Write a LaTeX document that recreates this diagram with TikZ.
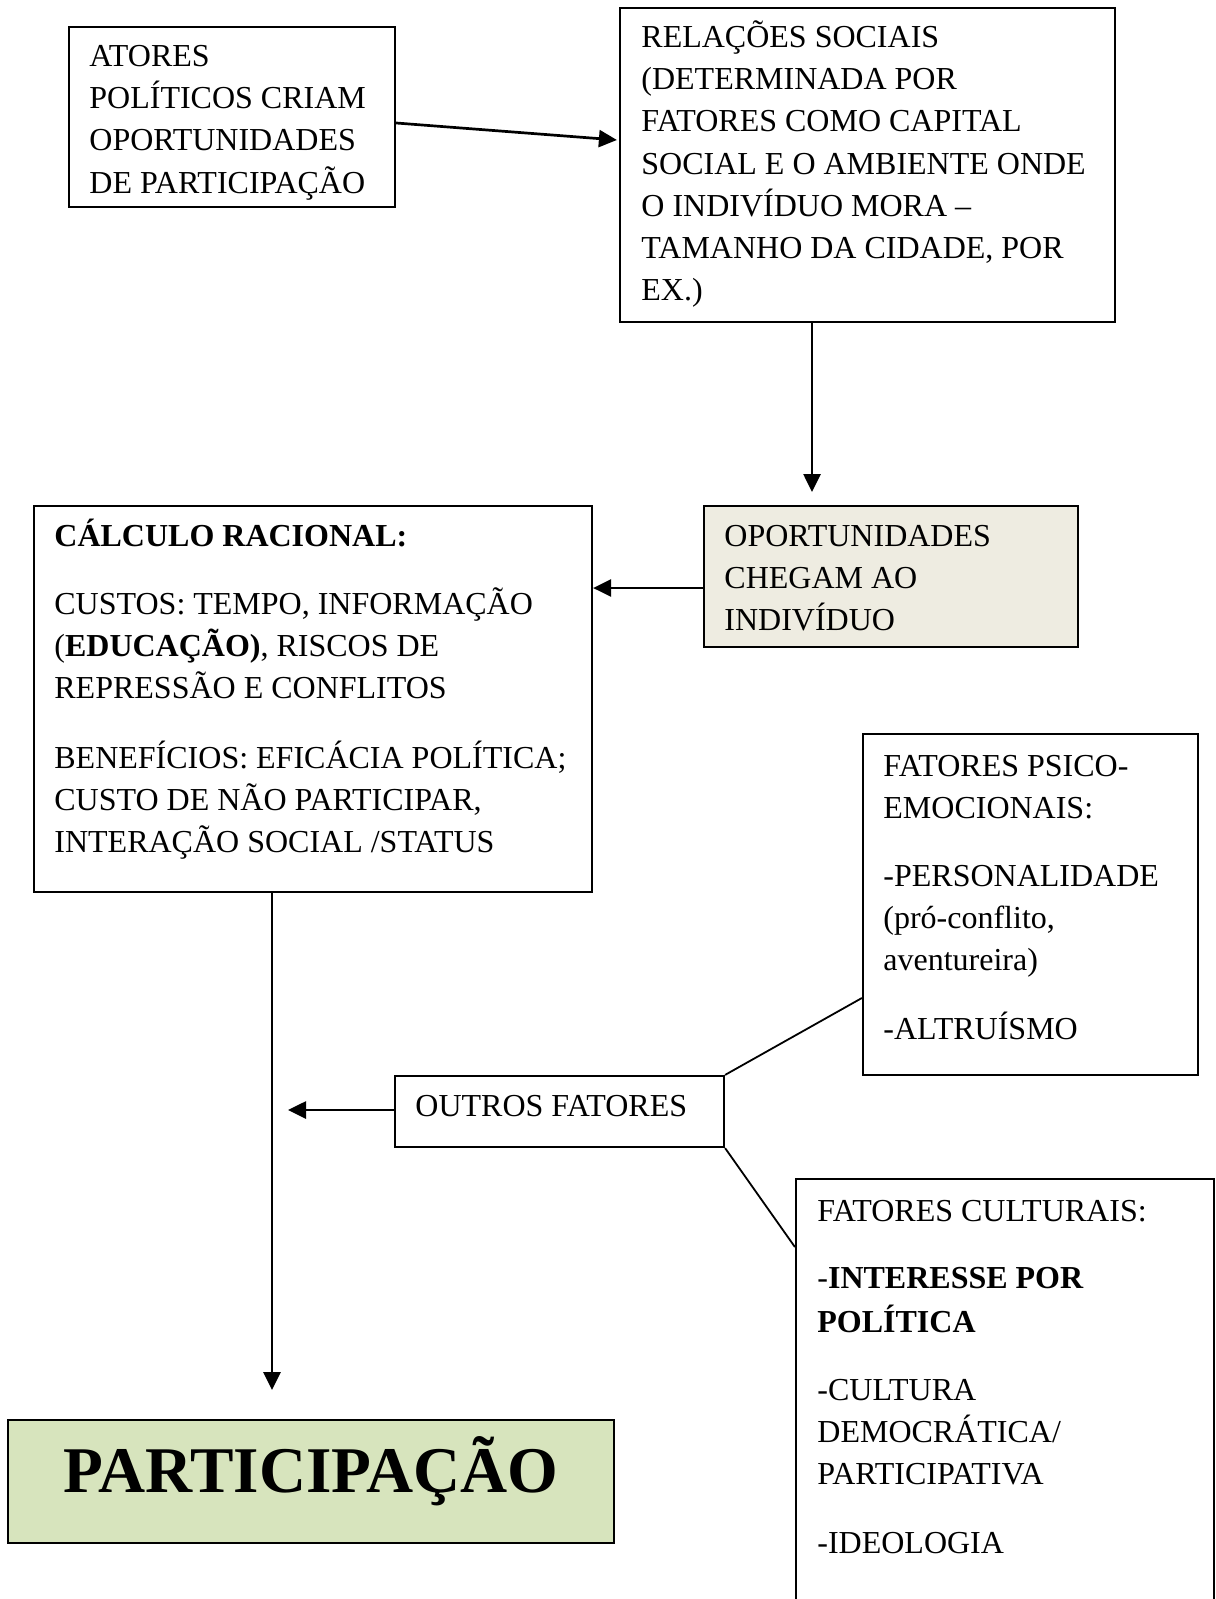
\documentclass[tikz,border=0pt]{standalone}
\usepackage{fontspec}
\setmainfont{Liberation Serif}
\usetikzlibrary{arrows.meta,fit,calc}
\definecolor{tanfill}{HTML}{EEECE1}
\definecolor{greenfill}{HTML}{D7E4BD}
\begin{document}
\begin{tikzpicture}[x=0.5pt,y=-0.5pt,
  box/.style={draw=black,line width=1.1pt,inner sep=0pt,rectangle},
  txt/.style={anchor=base west,inner sep=0pt,font=\fontsize{16}{21}\selectfont},
  arr/.style={line width=1.35pt,-{Triangle[length=9pt,width=8.5pt]}},
  link/.style={line width=0.9pt}]
\useasboundingbox (0,0) rectangle (1215,1599);
\fill[white] (0,0) rectangle (1215,1599);

% boxes
\node[box,fit={(69,27)(395,207)}] (b1) {};
\node[box,fit={(620,8)(1115,322)}] (b2) {};
\node[box,fill=tanfill,fit={(704,506)(1078,647)}] (b3) {};
\node[box,fit={(34,506)(592,892)}] (b4) {};
\node[box,fit={(863,734)(1198,1075)}] (b5) {};
\node[box,fit={(395,1076)(724,1147)}] (b6) {};
\node[box,fit={(796,1179)(1214,1630)}] (b7) {};
\node[box,fill=greenfill,fit={(8,1420)(614,1543)}] (b8) {};

% box 1 text
\node[txt] (t11) at (89,66.5) {ATORES};
\node[txt] (t12) at (89,108.7) {POLÍTICOS CRIAM};
\node[txt] (t13) at (89,150.9) {OPORTUNIDADES};
\node[txt] (t14) at (89,193.1) {DE PARTICIPAÇÃO};

% box 2 text
\node[txt] (t21) at (641,47.5) {RELAÇÕES SOCIAIS};
\node[txt] (t22) at (641,89.7) {(DETERMINADA POR};
\node[txt] (t23) at (641,131.9) {FATORES COMO CAPITAL};
\node[txt] (t24) at (641,174.1) {SOCIAL E O AMBIENTE ONDE};
\node[txt] (t25) at (641,216.3) {O INDIVÍDUO MORA –};
\node[txt] (t26) at (641,258.5) {TAMANHO DA CIDADE, POR};
\node[txt] (t27) at (641,300.7) {EX.)};

% box 3 text
\node[txt] (t31) at (724,546) {OPORTUNIDADES};
\node[txt] (t32) at (724,588.2) {CHEGAM AO};
\node[txt] (t33) at (724,630.4) {INDIVÍDUO};

% box 4 text
\node[txt,font=\fontsize{16}{21}\selectfont\bfseries] (t41) at (54,546) {CÁLCULO RACIONAL:};
\node[txt] (t42) at (54,614) {CUSTOS: TEMPO, INFORMAÇÃO};
\node[txt] (t43) at (54,656.2) {(\textbf{EDUCAÇÃO)}, RISCOS DE};
\node[txt] (t44) at (54,698.4) {REPRESSÃO E CONFLITOS};
\node[txt] (t45) at (54,768) {BENEFÍCIOS: EFICÁCIA POLÍTICA;};
\node[txt] (t46) at (54,810.2) {CUSTO DE NÃO PARTICIPAR,};
\node[txt] (t47) at (54,852.4) {INTERAÇÃO SOCIAL /STATUS};

% box 5 text
\node[txt] (t51) at (883,776) {FATORES PSICO-};
\node[txt] (t52) at (883,818.2) {EMOCIONAIS:};
\node[txt] (t53) at (883,886) {-PERSONALIDADE};
\node[txt] (t54) at (883,928.2) {(pró-conflito,};
\node[txt] (t55) at (883,970.4) {aventureira)};
\node[txt] (t56) at (883,1039.5) {-ALTRUÍSMO};

% box 6 text
\node[txt] (t61) at (415,1116) {OUTROS FATORES};

% box 7 text
\node[txt] (t71) at (817,1221) {FATORES CULTURAIS:};
\node[txt] (t72) at (817,1288.5) {-\textbf{INTERESSE POR}};
\node[txt] (t73) at (817,1332.5) {\textbf{POLÍTICA}};
\node[txt] (t74) at (817,1400) {-CULTURA};
\node[txt] (t75) at (817,1442.2) {DEMOCRÁTICA/};
\node[txt] (t76) at (817,1484.4) {PARTICIPATIVA};
\node[txt] (t77) at (817,1553.5) {-IDEOLOGIA};

% box 8 text
\node[anchor=base,inner sep=0pt,font=\fontsize{32.6}{38}\selectfont\bfseries] (t81) at (311,1492) {PARTICIPAÇÃO};

% helper coordinates
\coordinate (c1) at (812,492);
\coordinate (c2) at (0,588);
\coordinate (c3) at (272,1390);
\coordinate (c4) at (288,1110);
\coordinate (c5) at (0,998);
\coordinate (c6) at (0,1247);

% connectors
\draw[arr] ([yshift=-3pt]b1.east) -- ([yshift=12.5pt,xshift=-1pt]b2.west);
\draw[arr] (b2.south -| c1) -- (c1);
\draw[arr] (b3.west |- c2) -- (b4.east |- c2);
\draw[arr] (b4.south -| c3) -- (c3);
\draw[arr] (b6.west |- c4) -- (c4);
\draw[link] (b6.north east) -- (b5.west |- c5);
\draw[link] (b6.south east) -- (b7.west |- c6);
\end{tikzpicture}
\end{document}
